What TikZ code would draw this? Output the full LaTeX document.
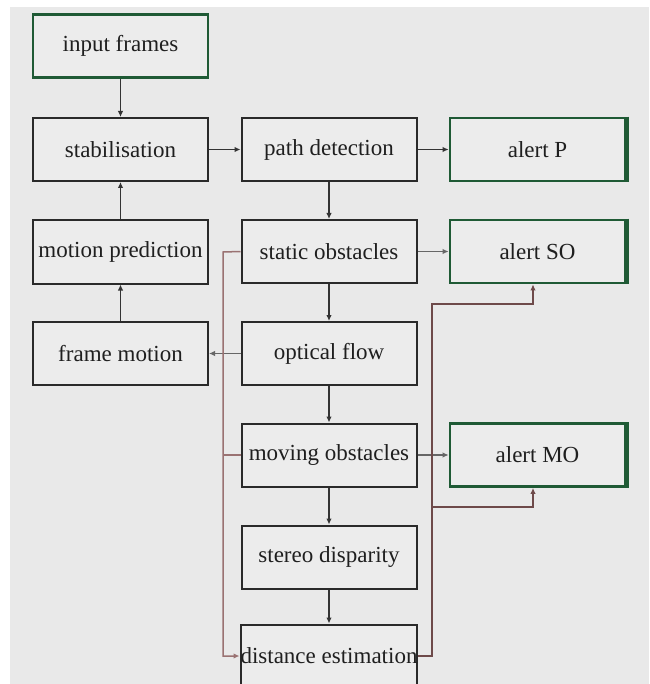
\documentclass[tikz,border=0pt]{standalone}
\usepackage{fontspec}
\setmainfont{Liberation Serif}
\usetikzlibrary{arrows.meta}
\definecolor{bg}{HTML}{E9E9E9}
\definecolor{boxfill}{HTML}{ECECEC}
\definecolor{edge}{HTML}{2A2A2A}
\definecolor{grn}{HTML}{1F5A35}
\definecolor{busL}{HTML}{9A7272}
\definecolor{busR}{HTML}{6E4A4A}
\tikzset{
  box/.style={rectangle, draw=edge, line width=2pt, fill=boxfill,
    minimum width=175pt, minimum height=63pt, inner sep=0pt,
    text=black!88, font=\fontsize{23}{25}\selectfont},
  gbox/.style={box, draw=grn, line width=2.8pt},
  arr/.style={draw=black!80, line width=1.7pt, -{Latex[length=6pt,width=5.5pt]}},
  garr/.style={draw=black!60, line width=1.5pt, -{Latex[length=6pt,width=5.5pt]}},
  busl/.style={draw=busL, line width=1.5pt},
  busr/.style={draw=busR, line width=1.7pt},
}
\begin{document}
\begin{tikzpicture}[x=1pt,y=-1pt]
\clip (0,0) rectangle (649,684);
\fill[white] (0,0) rectangle (649,684);
\fill[bg] (10,7) rectangle (649,684);
% column A
\node[gbox] (inp)   at (120.5,46)    {input frames};
\node[box]  (stab)  at (120.5,149.5) {stabilisation};
\node[box]  (mpred) at (120.5,252)   {motion prediction};
\node[box]  (fmot)  at (120.5,353.5) {frame motion};
% column B
\node[box]  (path)  at (329,149.5) {path detection};
\node[box]  (stat)  at (329,251.5) {static obstacles};
\node[box]  (opt)   at (329,353.5) {optical flow};
\node[box]  (mov)   at (329,455)   {moving obstacles};
\node[box]  (ster)  at (329,557)   {stereo disparity};
\node[box]  (dist)  at (329,656)   {distance estimation};
% column C
\node[gbox] (alP)   at (537.5,149.5) {alert P};
\node[gbox] (alSO)  at (537.5,251.5) {alert SO};
\node[gbox] (alMO)  at (537.5,455)   {alert MO};
% thicker right edges of green boxes
\foreach \n in {alP,alSO,alMO}{
  \draw[grn, line width=4.2pt] (\n.north east) -- (\n.south east);
}
% main flow
\draw[arr] (inp.south) -- (stab.north);
\draw[arr] (mpred.north) -- (stab.south);
\draw[arr] (fmot.north) -- (mpred.south);
\draw[arr] (stab.east) -- (path.west);
\draw[arr] (path.east) -- (alP.west);
\draw[arr] (path.south) -- (stat.north);
\draw[garr] (stat.east) -- (alSO.west);
\draw[arr] (stat.south) -- (opt.north);
\draw[garr] (opt.west) -- (fmot.east);
\draw[arr] (opt.south) -- (mov.north);
\draw[garr] (mov.east) -- (alMO.west);
\draw[arr] (mov.south) -- (ster.north);
\draw[arr] (ster.south) -- (dist.north);
% left bus
\coordinate (lb) at (223,252);
\draw[busl, -{Latex[length=6pt,width=5.5pt]}] (stat.west) -- (lb) |- (dist.west);
\draw[busl] (mov.west) -- (lb |- mov.west);
% right bus
\coordinate (rb1) at (432,304);
\coordinate (rb2) at (432,507);
\draw[busr, -{Latex[length=6pt,width=5.5pt]}] (dist.east) -| (rb1) -| ([xshift=-4.5pt]alSO.south);
\draw[busr, -{Latex[length=6pt,width=5.5pt]}] (rb2) -| ([xshift=-4.5pt]alMO.south);
\end{tikzpicture}
\end{document}
